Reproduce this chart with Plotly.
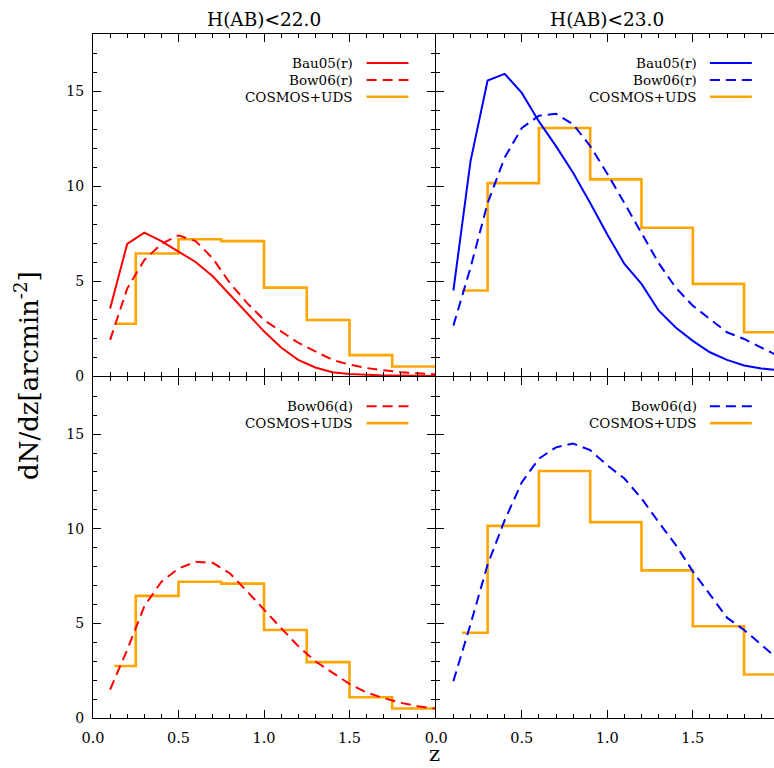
import plotly.graph_objects as go

# ---------------- data ----------------
z_model = [0.1, 0.2, 0.3, 0.4, 0.5, 0.6, 0.7, 0.8, 0.9, 1.0,
           1.1, 1.2, 1.3, 1.4, 1.5, 1.6, 1.7, 1.8, 1.9, 2.0]

# H(AB) < 22.0
bau05_r_22 = [3.55, 6.95, 7.55, 7.1, 6.55, 6.0, 5.25, 4.3, 3.3, 2.35,
              1.5, 0.85, 0.45, 0.2, 0.1, 0.05, 0.03, 0.02, 0.01, 0.005]
bow06_r_22 = [1.9, 4.6, 6.1, 6.95, 7.4, 7.1, 6.2, 4.9, 3.85, 2.95,
              2.35, 1.75, 1.3, 0.85, 0.6, 0.42, 0.3, 0.2, 0.14, 0.09]
bow06_d_22 = [1.5, 3.6, 5.9, 7.2, 7.9, 8.25, 8.2, 7.65, 6.7, 5.7,
              4.75, 3.8, 3.0, 2.4, 1.8, 1.35, 1.05, 0.8, 0.62, 0.5]
edges_22 = [0.125, 0.25, 0.5, 0.75, 1.0, 1.25, 1.5, 1.75, 2.0]
obs_22 = [2.75, 6.45, 7.2, 7.1, 4.65, 2.95, 1.1, 0.5]

# H(AB) < 23.0
bau05_r_23 = [4.5, 11.3, 15.55, 15.9, 14.9, 13.4, 12.1, 10.7, 9.1, 7.45,
              5.9, 4.85, 3.45, 2.55, 1.85, 1.25, 0.85, 0.55, 0.4, 0.3]
bow06_r_23 = [2.65, 5.7, 9.1, 11.5, 13.05, 13.7, 13.8, 13.25, 12.1, 10.65,
              9.1, 7.5, 5.95, 4.65, 3.7, 3.0, 2.3, 1.95, 1.5, 1.05]
bow06_d_23 = [1.95, 4.95, 8.1, 10.45, 12.45, 13.7, 14.3, 14.5, 14.15, 13.35,
              12.65, 11.6, 10.35, 9.15, 7.75, 6.5, 5.3, 4.65, 3.9, 3.1]
edges_23 = [0.15, 0.3, 0.6, 0.9, 1.2, 1.5, 1.8, 2.1]
obs_23 = [4.5, 10.15, 13.05, 10.35, 7.8, 4.85, 2.3]

titles = ["H(AB)<22.0", "H(AB)<23.0"]
x_ticks = [0.0, 0.5, 1.0, 1.5]
x_tick_labels = ["0.0", "0.5", "1.0", "1.5"]
y_ticks = [0, 5, 10, 15]
y_tick_labels = ["0", "5", "10", "15"]

# ---------------- style ----------------
RED = "#ff0000"
BLUE = "#0000ff"
ORANGE = "#ffa500"
FONT = "DejaVu Serif"
DASH = "10px,6px"
W, H = 774, 768
ML, MR, MT, MB = 93, 0, 34, 50
PW, PH = W - ML - MR, H - MT - MB
LW = 1.3

fig = go.Figure()


def hist_xy(edges, vals):
    return edges, list(vals) + [vals[-1]]


def add_model(y, color, dash, xa, ya):
    fig.add_trace(go.Scatter(x=z_model, y=y, mode="lines", xaxis=xa, yaxis=ya,
                             line=dict(color=color, width=2, dash=dash),
                             showlegend=False, hoverinfo="skip"))


def add_obs(edges, vals, xa, ya):
    hx, hy = hist_xy(edges, vals)
    fig.add_trace(go.Scatter(x=hx, y=hy, mode="lines", xaxis=xa, yaxis=ya,
                             line=dict(color=ORANGE, width=2.6, shape="hv"),
                             showlegend=False, hoverinfo="skip"))


# top-left
add_obs(edges_22, obs_22, "x", "y")
add_model(bau05_r_22, RED, "solid", "x", "y")
add_model(bow06_r_22, RED, DASH, "x", "y")
# top-right
add_obs(edges_23, obs_23, "x2", "y2")
add_model(bau05_r_23, BLUE, "solid", "x2", "y2")
add_model(bow06_r_23, BLUE, DASH, "x2", "y2")
# bottom-left
add_obs(edges_22, obs_22, "x3", "y3")
add_model(bow06_d_22, RED, DASH, "x3", "y3")
# bottom-right
add_obs(edges_23, obs_23, "x4", "y4")
add_model(bow06_d_23, BLUE, DASH, "x4", "y4")

left_w = 342.0
XL = [0.0, left_w / PW]
XR = [(left_w + LW) / PW, 1.0]
YT = [0.5, 1.0]
YB = [0.0, 0.5 - LW / PH]


def xaxis(domain, anchor, rng, labels):
    return dict(domain=domain, anchor=anchor, range=rng, showline=True,
                linecolor="black", linewidth=LW, mirror="ticks",
                ticks="inside", ticklen=8, tickwidth=1.2, tickcolor="black",
                tickmode="array", tickvals=x_ticks, ticktext=x_tick_labels,
                showticklabels=labels, ticklabelstandoff=6,
                tickfont=dict(family=FONT, size=14.5, color="black"),
                minor=dict(ticks="inside", ticklen=4, tickmode="linear",
                           tick0=0, dtick=0.1, tickcolor="black", tickwidth=1,
                           showgrid=False),
                showgrid=False, zeroline=False, fixedrange=True)


def yaxis(domain, anchor, labels, mirror):
    return dict(domain=domain, anchor=anchor, range=[0, 18], showline=True,
                linecolor="black", linewidth=LW, mirror=mirror,
                ticks="inside", ticklen=8, tickwidth=1.2, tickcolor="black",
                tickmode="array", tickvals=y_ticks, ticktext=y_tick_labels,
                showticklabels=labels, ticklabelstandoff=5,
                tickfont=dict(family=FONT, size=14, color="black"),
                minor=dict(ticks="inside", ticklen=4, tickmode="linear",
                           tick0=0, dtick=1, tickcolor="black", tickwidth=1,
                           showgrid=False),
                showgrid=False, zeroline=False, fixedrange=True)


RIGHT_MAX = (PW - left_w - LW) / 171.0

fig.update_layout(
    width=W, height=H,
    margin=dict(l=ML, r=MR, t=MT, b=MB),
    paper_bgcolor="white", plot_bgcolor="white",
    showlegend=False,
    font=dict(family=FONT, color="black"),
    xaxis=xaxis(XL, "y", [0, 2.0], False),
    yaxis=yaxis(YT, "x", True, "ticks"),
    xaxis2=xaxis(XR, "y2", [0, RIGHT_MAX], False),
    yaxis2=yaxis(YT, "x2", False, False),
    xaxis3=xaxis(XL, "y3", [0, 2.0], True),
    yaxis3=yaxis(YB, "x3", True, "ticks"),
    xaxis4=xaxis(XR, "y4", [0, RIGHT_MAX], True),
    yaxis4=yaxis(YB, "x4", False, False),
)

annotations = []
shapes = []

# panel titles
for xr, t in zip(["x", "x2"], titles):
    annotations.append(dict(text=t, xref=xr, yref="paper", x=1.0, y=1.0,
                            yanchor="middle", yshift=15, showarrow=False,
                            font=dict(family=FONT, size=18.5, color="black")))

# axis titles
annotations.append(dict(text="dN/dz[arcmin<sup>-2</sup>]", xref="paper", yref="paper",
                        x=(27 - ML) / PW, y=0.5, textangle=-90, showarrow=False,
                        xanchor="center", yanchor="middle",
                        font=dict(family=FONT, size=26, color="black")))
annotations.append(dict(text="z", xref="paper", yref="paper", x=(434 - ML) / PW, y=0,
                        yanchor="middle", yshift=-36, showarrow=False,
                        font=dict(family=FONT, size=21, color="black")))

# in-panel legends
legend_rows = [16.47, 15.58, 14.7]
legend_text_right = 1.535
legend_line = [1.60, 1.845]
legends = [
    ("x", "y", [("Bau05(r)", RED, "solid"), ("Bow06(r)", RED, "dash"),
                ("COSMOS+UDS", ORANGE, "solid")]),
    ("x2", "y2", [("Bau05(r)", BLUE, "solid"), ("Bow06(r)", BLUE, "dash"),
                  ("COSMOS+UDS", ORANGE, "solid")]),
    ("x3", "y3", [("Bow06(d)", RED, "dash"), ("COSMOS+UDS", ORANGE, "solid")]),
    ("x4", "y4", [("Bow06(d)", BLUE, "dash"), ("COSMOS+UDS", ORANGE, "solid")]),
]
for xr, yr, entries in legends:
    for (lab, col, dsh), yy in zip(entries, legend_rows):
        annotations.append(dict(text=lab, xref=xr, yref=yr, x=legend_text_right, y=yy,
                                xanchor="right", yanchor="middle", showarrow=False,
                                font=dict(family=FONT, size=13.5, color="black")))
        shapes.append(dict(type="line", xref=xr, yref=yr,
                           x0=legend_line[0], x1=legend_line[1], y0=yy, y1=yy,
                           line=dict(color=col, width=2.6 if col == ORANGE else 2,
                                     dash=DASH if dsh == "dash" else "solid")))

fig.update_layout(annotations=annotations, shapes=shapes)

fig.write_html("out.html")
